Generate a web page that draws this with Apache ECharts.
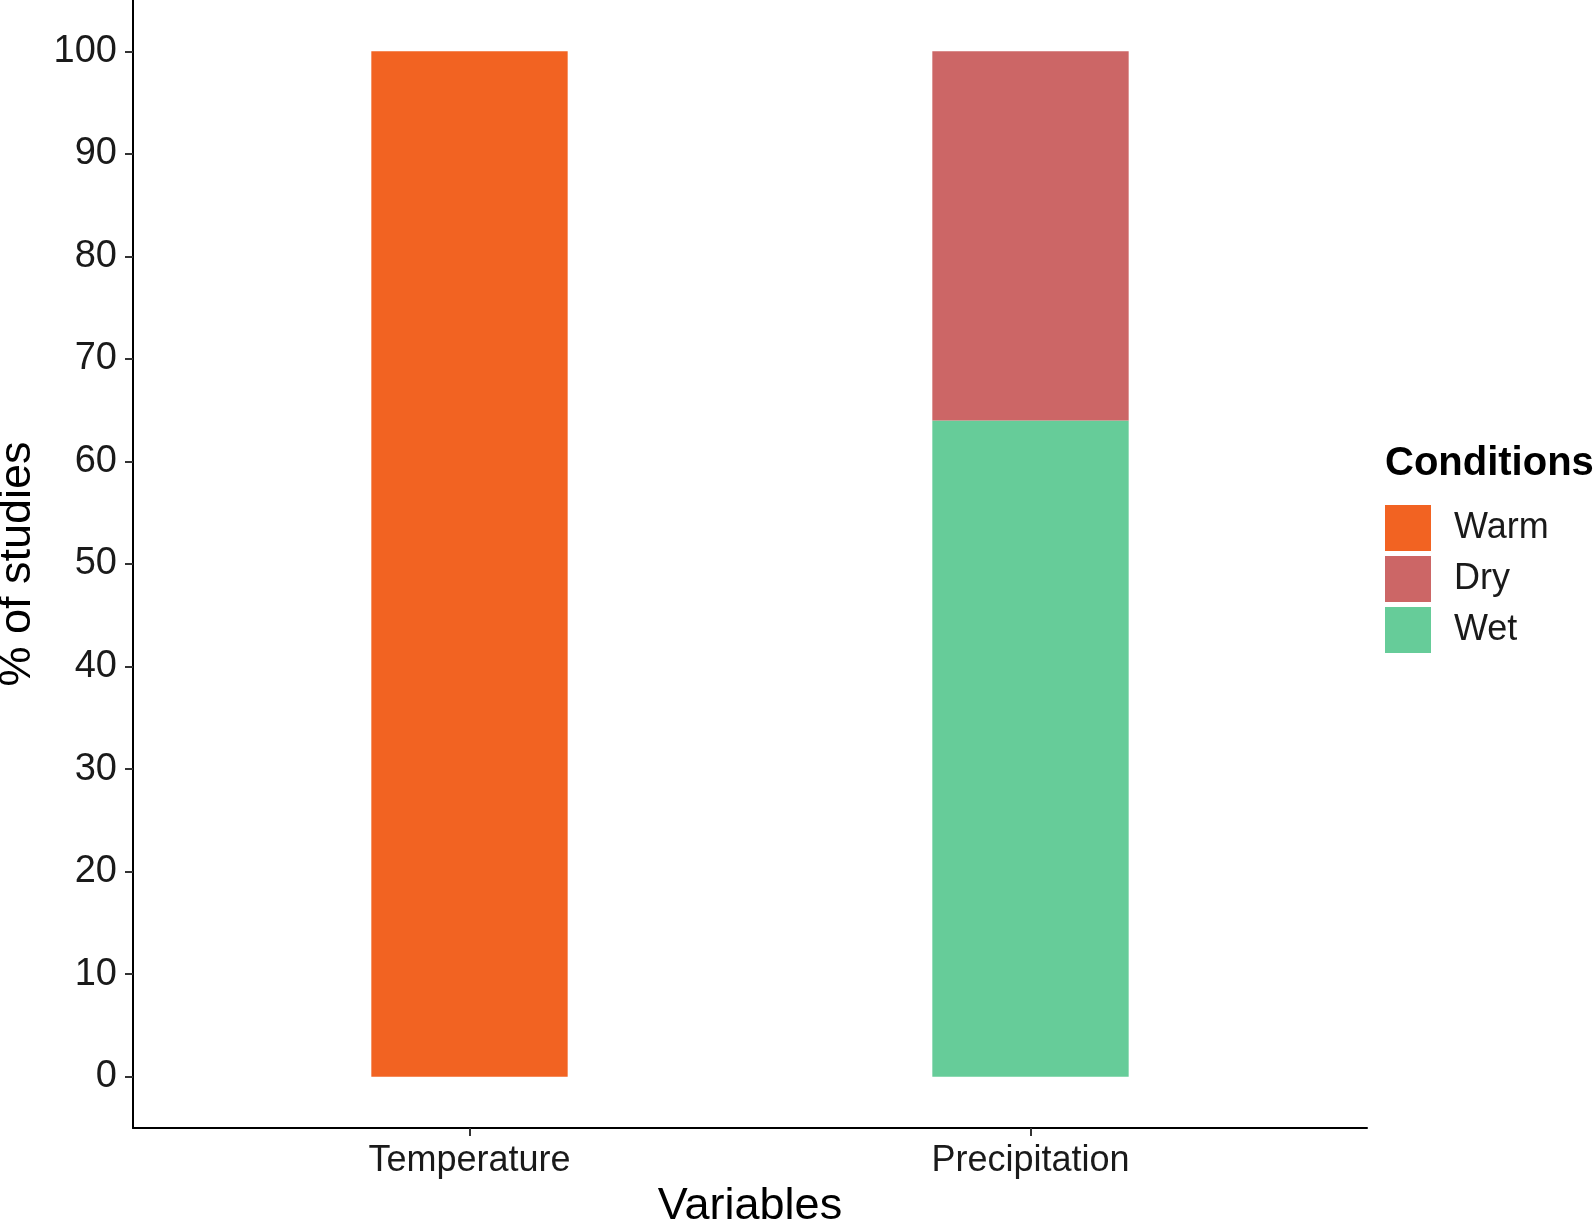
<!DOCTYPE html>
<html>
<head>
<meta charset="utf-8">
<script src="https://cdn.jsdelivr.net/npm/echarts@6/dist/echarts.min.js"></script>
<style>
html,body{margin:0;padding:0;background:#fff;}
#chart{width:1594px;height:1220px;}
</style>
</head>
<body>
<div id="chart"></div>
<script>
const categories = ['Temperature', 'Precipitation'];
const warm = [100, 0];
const wet = [0, 64];
const dry = [0, 36];
const yTicks = [0, 10, 20, 30, 40, 50, 60, 70, 80, 90, 100];
const legendOrder = ['Warm', 'Dry', 'Wet'];

const FONT = '"Liberation Sans", Arial, sans-serif';
const pos = categories.map((c, i) => i + 1);

const chart = echarts.init(document.getElementById('chart'), null, {renderer: 'canvas'});
chart.setOption({
  animation: false,
  backgroundColor: '#ffffff',
  textStyle: {fontFamily: FONT},
  title: {
    text: 'Conditions',
    left: 1385, top: 444,
    padding: 0,
    textStyle: {fontFamily: FONT, fontSize: 40, fontWeight: 'bold', color: '#000'}
  },
  legend: {
    data: legendOrder,
    orient: 'vertical',
    left: 1385, top: 505,
    padding: 0,
    itemWidth: 46, itemHeight: 46, itemGap: 5,
    icon: 'rect',
    textStyle: {fontFamily: FONT, fontSize: 36, color: '#1a1a1a', padding: [0, 0, 0, 18]}
  },
  grid: [
    {left: 133, right: 227, top: 0, bottom: 92, outerBoundsMode: 'none', containLabel: false},
    {left: 189, right: 283, top: 0, bottom: 92, outerBoundsMode: 'none', containLabel: false}
  ],
  xAxis: [{
    type: 'value',
    gridIndex: 0,
    min: 0.4, max: 2.6,
    name: 'Variables',
    nameLocation: 'middle',
    nameGap: 55,
    nameTextStyle: {fontFamily: FONT, fontSize: 45, color: '#000'},
    axisLine: {show: true, onZero: false, lineStyle: {color: '#000', width: 2}},
    axisTick: {show: true, length: 8, customValues: pos, lineStyle: {color: '#333', width: 2}},
    axisLabel: {customValues: pos, formatter: v => categories[Math.round(v) - 1] || '',
      fontFamily: FONT, fontSize: 36, color: '#1a1a1a', margin: 15},
    splitLine: {show: false}
  }, {
    type: 'category',
    gridIndex: 1,
    data: categories,
    show: false,
    boundaryGap: true
  }],
  yAxis: [{
    type: 'value',
    gridIndex: 0,
    min: -5, max: 105,
    name: '% of studies',
    nameLocation: 'middle',
    nameGap: 93,
    nameTextStyle: {fontFamily: FONT, fontSize: 45, color: '#000'},
    axisLine: {show: true, onZero: false, lineStyle: {color: '#000', width: 2}},
    axisTick: {show: true, length: 8, customValues: yTicks, lineStyle: {color: '#333', width: 2}},
    axisLabel: {customValues: yTicks, fontFamily: FONT, fontSize: 38, color: '#1a1a1a', margin: 16},
    splitLine: {show: false}
  }, {
    type: 'value',
    gridIndex: 1,
    min: -5, max: 105,
    show: false,
    splitLine: {show: false}
  }],
  series: [
    {name: 'Warm', type: 'bar', stack: 's', xAxisIndex: 1, yAxisIndex: 1, barWidth: '35%', data: warm, itemStyle: {color: '#F26322'}},
    {name: 'Wet', type: 'bar', stack: 's', xAxisIndex: 1, yAxisIndex: 1, barWidth: '35%', data: wet, itemStyle: {color: '#66CC99'}},
    {name: 'Dry', type: 'bar', stack: 's', xAxisIndex: 1, yAxisIndex: 1, barWidth: '35%', data: dry, itemStyle: {color: '#CC6666'}}
  ]
});
</script>
</body>
</html>
